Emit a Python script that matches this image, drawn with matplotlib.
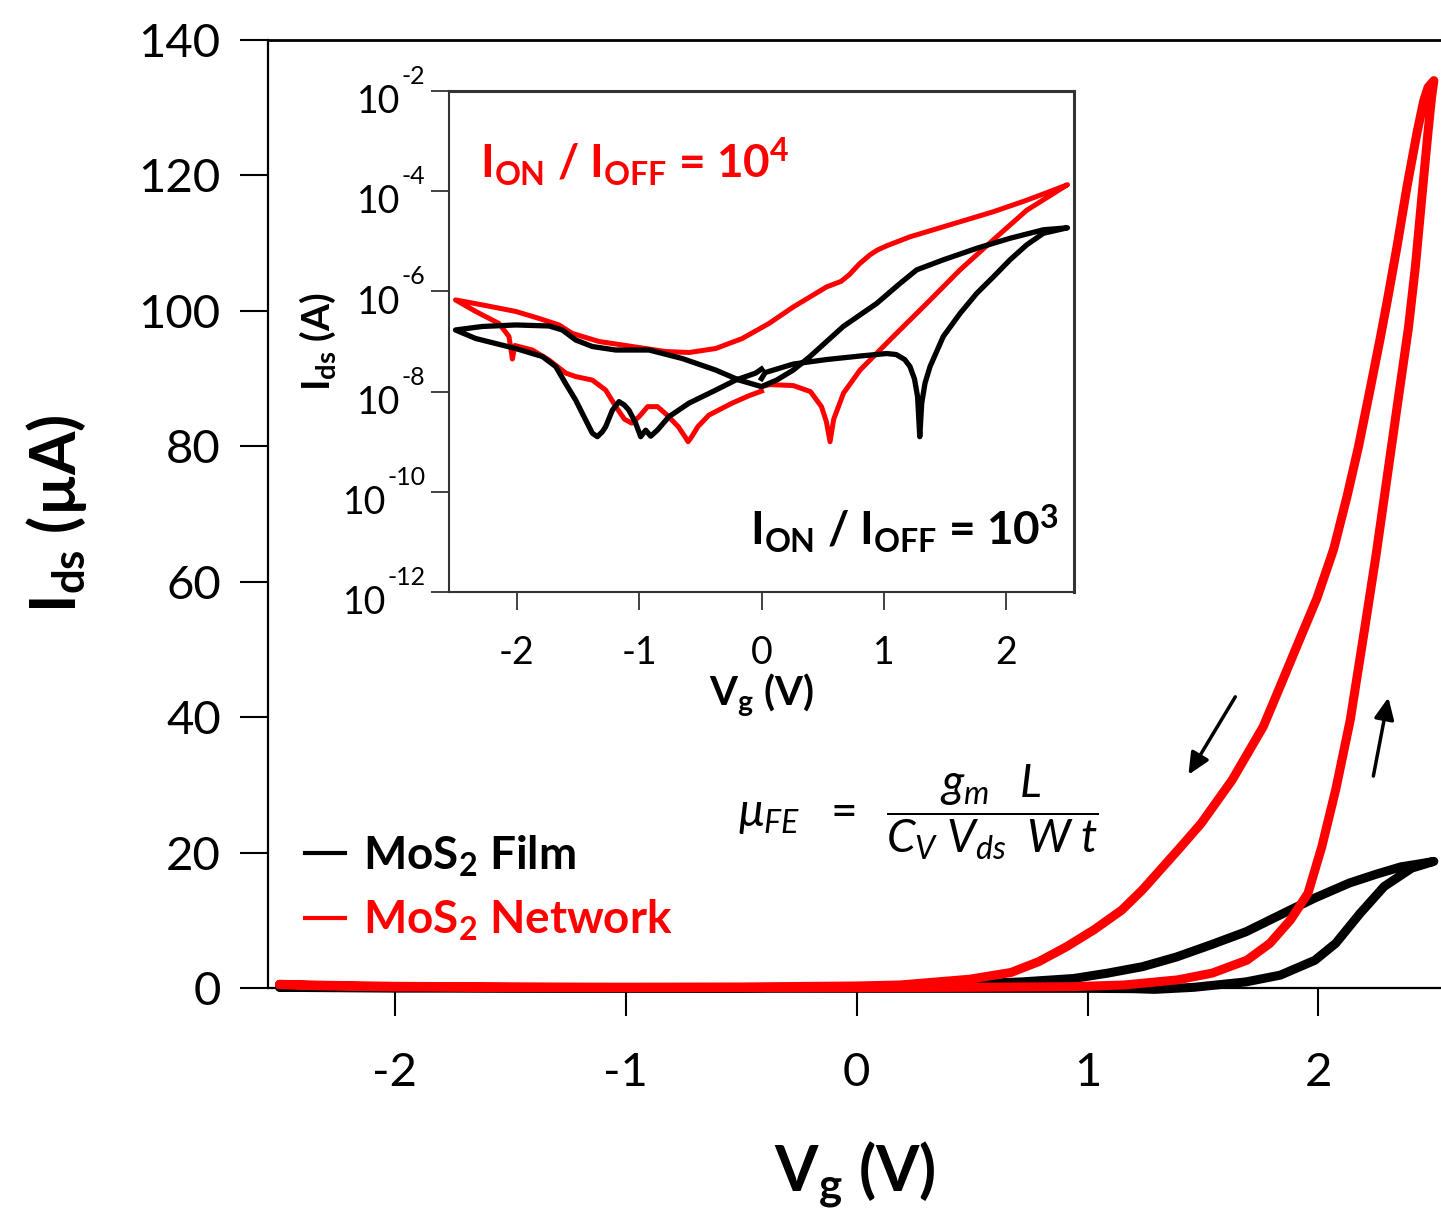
import numpy as np
import matplotlib.pyplot as plt
from matplotlib.lines import Line2D
from matplotlib.ticker import FixedLocator, NullLocator, NullFormatter

plt.rcParams['font.family'] = ['Lato', 'DejaVu Sans']
plt.rcParams['mathtext.fontset'] = 'custom'
plt.rcParams['mathtext.rm'] = 'Lato'
plt.rcParams['mathtext.it'] = 'Lato:italic'
plt.rcParams['mathtext.bf'] = 'Lato:bold'
plt.rcParams['axes.unicode_minus'] = False

# ---- main panel: Ids (uA) vs Vg, forward then backward sweep ----
net_fwd_vg = [-2.50, -2.30, -2.00, -1.50, -1.00, -0.50, 0.00, 0.50, 0.94, 1.16, 1.39, 1.54,
              1.69, 1.79, 1.88, 1.955, 2.015, 2.075, 2.138, 2.20, 2.25, 2.30, 2.35,
              2.39, 2.42, 2.45, 2.475, 2.49, 2.50]
net_fwd_i = [0.5, 0.3, 0.15, 0.1, 0.05, 0.05, 0.05, 0.1, 0.2, 0.45, 1.2, 2.2,
             4.1, 6.6, 10.1, 14.0, 20.9, 29.3, 39.6, 53.0, 64.0, 76.0, 88.0,
             97.5, 106.5, 117.5, 126.5, 131.5, 134.0]
net_bwd_vg = [2.50, 2.475, 2.456, 2.427, 2.384, 2.341, 2.30, 2.268, 2.225, 2.174, 2.124,
              2.066, 1.994, 1.908, 1.83, 1.761, 1.626, 1.492, 1.40, 1.327, 1.238, 1.148,
              1.028, 0.909, 0.789, 0.669, 0.49, 0.19, 0.0, -0.5, -1.0, -1.5, -2.0, -2.3, -2.5]
net_bwd_i = [134.0, 133.0, 131.0, 126.3, 118.4, 109.6, 101.8, 96.0, 88.6, 80.0, 72.6,
             64.8, 57.6, 50.6, 44.2, 38.6, 30.7, 24.3, 20.7, 17.9, 14.5, 11.5,
             8.6, 6.1, 3.9, 2.3, 1.3, 0.45, 0.3, 0.15, 0.12, 0.15, 0.25, 0.4, 0.55]

film_fwd_vg = [-2.50, -2.00, -1.00, 0.00, 1.00, 1.20, 1.29, 1.46, 1.686, 1.835, 1.985,
               2.075, 2.18, 2.285, 2.404, 2.50]
film_fwd_i = [0.1, -0.02, -0.03, -0.05, -0.05, -0.1, -0.2, 0.1, 0.9, 1.9, 4.1,
              6.6, 11.0, 15.0, 17.7, 18.7]
film_bwd_vg = [2.50, 2.45, 2.358, 2.25, 2.134, 1.985, 1.835, 1.686, 1.536, 1.387, 1.238,
               1.088, 0.939, 0.714, 0.49, 0.2, 0.0, -0.5, -1.0, -1.5, -2.0, -2.5]
film_bwd_i = [18.7, 18.4, 17.9, 16.8, 15.5, 13.3, 10.8, 8.3, 6.4, 4.6, 3.15,
              2.2, 1.4, 0.9, 0.6, 0.3, 0.15, 0.05, 0.05, 0.05, 0.1, 0.15]

# ---- inset: log10|Ids| (A); sweep 0 -> +2.5 -> -2.5 -> 0 ----
net_log_vg = [0.0, 0.07, 0.26, 0.40, 0.49, 0.53, 0.56, 0.59, 0.67, 0.805, 1.077, 1.35,
              1.622, 1.894, 2.167, 2.50,
              2.384, 2.167, 1.894, 1.622, 1.35, 1.213, 1.023, 0.95, 0.886, 0.80, 0.72, 0.65,
              0.532, 0.26, 0.061, -0.157, -0.374, -0.592, -0.783, -1.055, -1.327, -1.545,
              -1.654, -1.817, -2.008, -2.28, -2.50,
              -2.335, -2.145, -2.063, -2.035, -2.015, -1.872, -1.736, -1.60, -1.518, -1.382,
              -1.273, -1.19, -1.12, -1.06, -1.0, -0.93, -0.85, -0.78, -0.68, -0.62, -0.60,
              -0.57, -0.52, -0.43, -0.24, -0.10, 0.0]
net_log_i = [-7.90, -7.86, -7.88, -8.0, -8.30, -8.6, -9.0, -8.55, -8.03, -7.57, -6.90, -6.24,
             -5.57, -4.97, -4.38, -3.87,
             -3.98, -4.18, -4.41, -4.61, -4.81, -4.91, -5.09, -5.17, -5.27, -5.45, -5.66, -5.80,
             -5.91, -6.31, -6.64, -6.94, -7.14, -7.22, -7.20, -7.10, -7.00, -6.84,
             -6.67, -6.54, -6.40, -6.27, -6.17,
             -6.40, -6.64, -6.90, -7.35, -7.08, -7.17, -7.37, -7.63, -7.70, -7.77,
             -7.97, -8.30, -8.55, -8.63, -8.50, -8.30, -8.30, -8.45, -8.70, -8.92, -9.0,
             -8.90, -8.70, -8.47, -8.23, -8.08, -7.99]

film_log_vg = [0.0, 0.03, 0.26, 0.532, 0.805, 1.023, 1.10, 1.17, 1.213, 1.25, 1.275, 1.293,
               1.309, 1.336, 1.377, 1.485, 1.622, 1.758, 1.894, 2.03, 2.167, 2.303, 2.50,
               2.303, 2.03, 1.758, 1.485, 1.268, 1.132, 0.941, 0.668, 0.396, 0.26, 0.124, 0.0,
               -0.184, -0.374, -0.647, -0.919, -1.191, -1.382, -1.518, -1.627, -1.736, -2.008,
               -2.281, -2.50,
               -2.335, -2.008, -1.79, -1.681, -1.60, -1.518, -1.436, -1.382, -1.341, -1.30,
               -1.273, -1.218, -1.164, -1.12, -1.083, -1.028, -0.987, -0.946, -0.905, -0.851,
               -0.756, -0.592, -0.374, -0.211, -0.047, 0.0]
film_log_i = [-7.74, -7.62, -7.45, -7.36, -7.29, -7.24, -7.26, -7.36, -7.50, -7.75, -8.1, -8.9,
              -8.23, -7.83, -7.50, -6.90, -6.44, -6.04, -5.71, -5.37, -5.07, -4.84, -4.73,
              -4.77, -4.94, -5.14, -5.37, -5.57, -5.84, -6.24, -6.70, -7.30, -7.57, -7.77, -7.90,
              -7.77, -7.57, -7.34, -7.17, -7.17, -7.10, -6.97, -6.77, -6.69, -6.67,
              -6.70, -6.77,
              -6.94, -7.14, -7.30, -7.50, -7.84, -8.17, -8.57, -8.83, -8.90, -8.80,
              -8.70, -8.37, -8.20, -8.27, -8.37, -8.63, -8.90, -8.77, -8.89, -8.77,
              -8.50, -8.23, -7.97, -7.77, -7.63, -7.55]

inset_decades = [-12, -10, -8, -6, -4, -2]

RED = '#ff0000'

fig = plt.figure(figsize=(14.41, 12.16), dpi=100)
ax = fig.add_axes([268 / 1441, 228 / 1216, 1 - 268 / 1441, 948 / 1216])

ax.plot(film_fwd_vg + film_bwd_vg, film_fwd_i + film_bwd_i, color='k', lw=6.5,
        solid_joinstyle='round', solid_capstyle='round', clip_on=False, zorder=3)
ax.plot(net_fwd_vg + net_bwd_vg, net_fwd_i + net_bwd_i, color=RED, lw=6.5,
        solid_joinstyle='round', solid_capstyle='round', clip_on=False, zorder=4)

ax.set_xlim(-2.55, 2.531)
ax.set_ylim(0, 140)
ax.xaxis.set_major_locator(FixedLocator([-2, -1, 0, 1, 2]))
ax.yaxis.set_major_locator(FixedLocator(range(0, 141, 20)))
ax.spines['right'].set_visible(False)
for s in ('left', 'bottom'):
    ax.spines[s].set_linewidth(1.6)
ax.spines['top'].set_linewidth(2.0)
ax.tick_params(direction='out', length=20, width=1.5, labelsize=34)
ax.tick_params(axis='x', pad=26)
ax.tick_params(axis='y', pad=14)

ax.set_xlabel(r'V$_\mathbf{g}$ (V)', fontsize=45, fontweight='bold')
ax.xaxis.set_label_coords(0.5, -0.213)
ax.xaxis.label.set_va('baseline')
ax.set_ylabel(r'I$_\mathbf{ds}$ (µA)', fontsize=45, fontweight='bold')
ax.yaxis.set_label_coords(-0.18, 0.5)
ax.yaxis.label.set_va('center')

# sweep direction arrows
arrow_kw = dict(arrowstyle='-|>,head_length=0.65,head_width=0.3', color='k', lw=2.5,
                mutation_scale=20, shrinkA=0, shrinkB=0)
ax.annotate('', xy=(1.437, 31.5), xytext=(1.640, 43.0), arrowprops=arrow_kw)
ax.annotate('', xy=(2.303, 42.9), xytext=(2.238, 31.3), arrowprops=arrow_kw)

ax.text(-0.515, 26.0,
        r'$\mu_{FE}\ \ =\ \;\dfrac{g_m\;\;\;L}{C_V\;V_{ds}\;\;W\;t}$',
        fontsize=33, ha='left', va='center')

handles = [Line2D([], [], color='k', lw=3), Line2D([], [], color=RED, lw=3)]
leg = ax.legend(handles, [r'MoS$_\mathbf{2}$ Film', r'MoS$_\mathbf{2}$ Network'],
                loc='upper left', bbox_to_anchor=(0.0315, 0.163), frameon=False,
                prop={'weight': 'bold', 'size': 33}, handlelength=0.87,
                handletextpad=0.4, borderpad=0, borderaxespad=0, labelspacing=0.42)
for txt, c in zip(leg.get_texts(), ['k', RED]):
    txt.set_color(c)

# ---- inset ----
axin = fig.add_axes([449 / 1441, (1216 - 592) / 1216, 625 / 1441, 501 / 1216])
axin.plot(net_log_vg, 10.0 ** np.array(net_log_i), color=RED, lw=3.6,
          solid_joinstyle='round', zorder=3)
axin.plot(film_log_vg, 10.0 ** np.array(film_log_i), color='k', lw=3.8,
          solid_joinstyle='round', zorder=4)
axin.set_yscale('log')
axin.set_xlim(-2.553, 2.553)
axin.set_ylim(1e-12, 1e-2)
axin.xaxis.set_major_locator(FixedLocator([-2, -1, 0, 1, 2]))
axin.yaxis.set_major_locator(FixedLocator([10.0 ** e for e in inset_decades]))
axin.yaxis.set_minor_locator(NullLocator())
axin.yaxis.set_major_formatter(NullFormatter())
for s in axin.spines.values():
    s.set_linewidth(1.5)
    s.set_color('#333333')
axin.spines['top'].set_linewidth(2.2)
axin.spines['right'].set_linewidth(2.2)
axin.tick_params(direction='out', length=13, width=1.3, color='#333333', labelsize=27)
axin.tick_params(axis='x', pad=18)

# decade labels: "10" with a raised exponent set off to the right
for e in inset_decades:
    t_exp = axin.annotate(str(e), xy=(0, 10.0 ** e), xycoords=('axes fraction', 'data'),
                          xytext=(-17, 5), textcoords='offset points',
                          ha='right', va='baseline', fontsize=18)
    axin.annotate('10', xy=(0, 10.0 ** e), xycoords=(t_exp, 'data'),
                  xytext=(-1, -16), textcoords='offset points',
                  ha='right', va='baseline', fontsize=27)

axin.set_xlabel(r'V$_\mathbf{g}$ (V)', fontsize=29, fontweight='bold')
axin.xaxis.set_label_coords(0.5, -0.2255)
axin.xaxis.label.set_va('baseline')
axin.set_ylabel(r'I$_\mathbf{ds}$ (A)', fontsize=28, fontweight='bold')
axin.yaxis.set_label_coords(-0.21, 0.5)
axin.yaxis.label.set_va('center')

axin.text(-2.30, 10 ** -3.74, r'I$_\mathbf{ON}$ / I$_\mathbf{OFF}$ = 10$^\mathbf{4}$',
          color=RED, fontsize=33, fontweight='bold', ha='left', va='baseline')
axin.text(-0.094, 10 ** -11.06, r'I$_\mathbf{ON}$ / I$_\mathbf{OFF}$ = 10$^\mathbf{3}$',
          color='k', fontsize=33, fontweight='bold', ha='left', va='baseline')

fig.savefig('out.png', dpi=100)
